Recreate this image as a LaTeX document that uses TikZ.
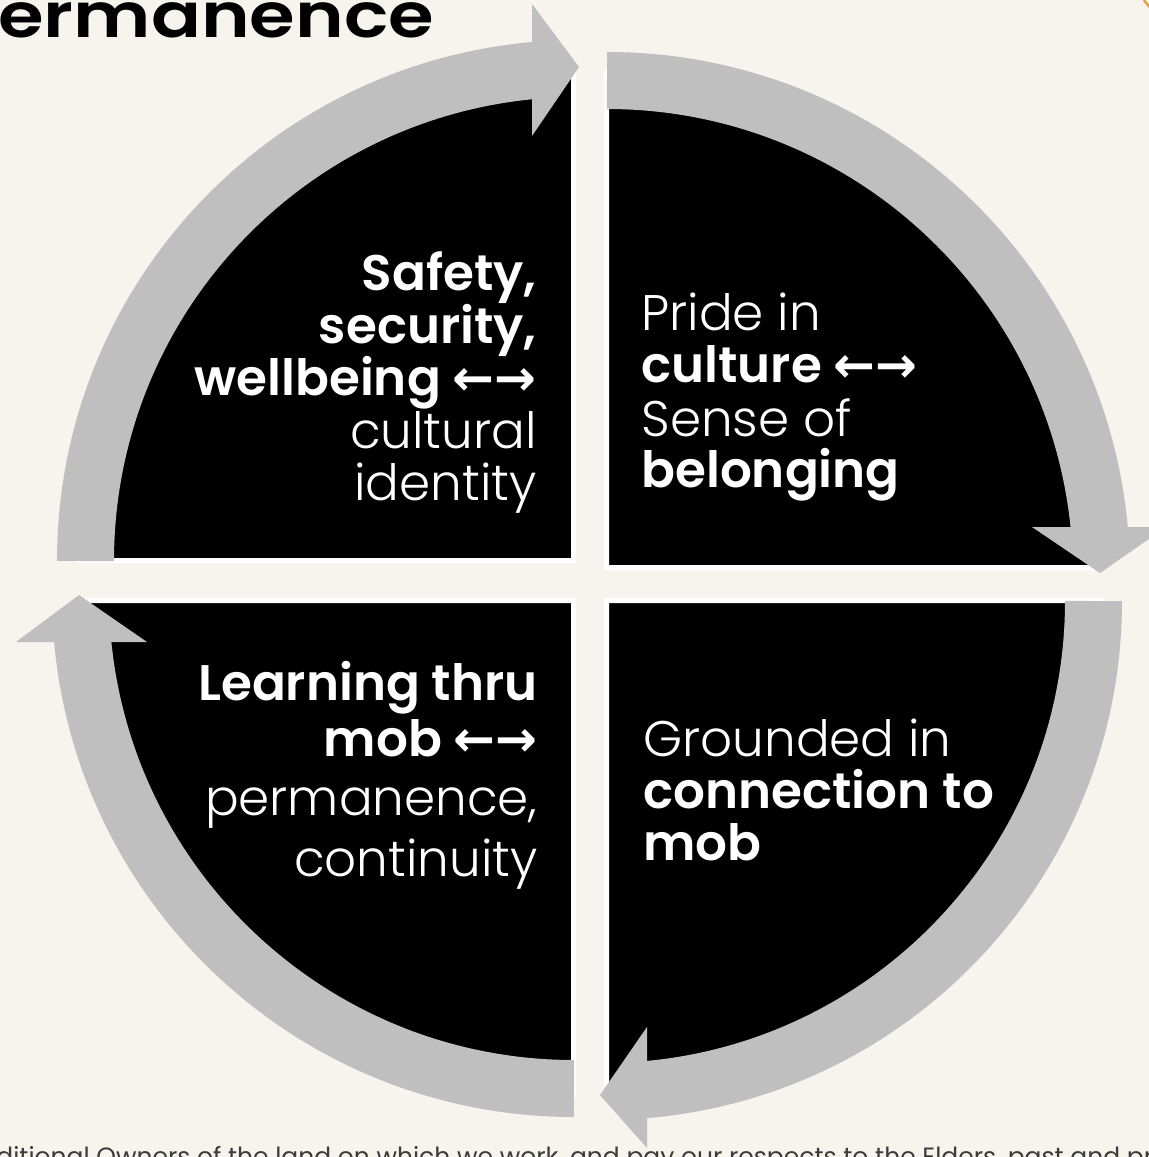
\documentclass[tikz,border=0pt]{standalone}
\usepackage{fontspec}
\setmainfont{Poppins}[UprightFont=* Light, BoldFont=* SemiBold]
\newfontfamily\footfont{Poppins}
\newfontfamily\arrowfont{DejaVu Sans}
\definecolor{bg}{RGB}{247,243,237}
\definecolor{arrowgray}{RGB}{191,191,191}
\definecolor{footgray}{RGB}{60,60,60}
\definecolor{accent}{RGB}{232,160,60}
\newcommand{\lr}{{\arrowfont\char"2190\char"2192}}
\begin{document}
\begin{tikzpicture}[x=0.5pt,y=-0.5pt,
  quad/.style={fill=black,draw=white,line width=2.5pt},
  band/.style={draw=arrowgray,line width=28.5pt},
  head/.style={fill=arrowgray},
  qtext/.style={text=white,inner sep=0pt,font=\fontsize{25}{26}\selectfont},
  qleft/.style={qtext,anchor=base west},
  qright/.style={qtext,anchor=base east}]
\useasboundingbox (0,0) rectangle (1149,1157);
\clip (0,0) rectangle (1149,1157);
\fill[bg] (0,0) rectangle (1149,1157);

% title and footer (partly outside the frame)
\node[anchor=base west,inner sep=0pt,font=\fontsize{31}{31}\bfseries\selectfont,xscale=1.19] (title) at (-2,37) {ermanence};
\node[anchor=base west,inner sep=0pt,text=footgray,font=\footfont\fontsize{12.5}{12.5}\selectfont] (foot) at (-4,1165) {ditional Owners of the land on which we work, and pay our respects to the Elders, past and pr};
\draw[accent,line width=1.2pt] (1170,-15) circle[radius=30];

% quadrants
\path[quad] (573.5,560.5) -- ++(-495,0) arc[start angle=180,end angle=270,radius=495] -- cycle;
\path[quad] (606.5,567.5) -- ++(0,-495) arc[start angle=270,end angle=360,radius=495] -- cycle;
\path[quad] (606.5,600.5) -- ++(495,0) arc[start angle=0,end angle=90,radius=495] -- cycle;
\path[quad] (573.5,600.5) -- ++(0,495) arc[start angle=90,end angle=180,radius=495] -- cycle;

% circular arrows
\draw[band] (578,561) ++(180:492.5) arc[start angle=180,end angle=266,radius=492.5];
\fill[head] (532,4) -- (579,67) -- (532,136) -- cycle;
\draw[band] (607,575) ++(270:494.5) arc[start angle=270,end angle=356,radius=494.5];
\fill[head] (1032,527) -- (1100,573) -- (1166,527) -- cycle;
\draw[band] (603,601) ++(0:490.5) arc[start angle=0,end angle=87,radius=490.5];
\fill[head] (647,1027) -- (600,1095) -- (647,1148) -- cycle;
\draw[band] (574,595) ++(90:493.5) arc[start angle=90,end angle=176,radius=493.5];
\fill[head] (16,642) -- (79,595) -- (147,642) -- cycle;

% texts
\node[qright] (tl1) at (537,290) {\bfseries Safety,};
\node[qright] (tl2) at (537,343) {\bfseries security,};
\node[qright] (tl3) at (537,395) {\bfseries wellbeing \lr};
\node[qright] (tl4) at (537,448) {cultural};
\node[qright] (tl5) at (537,500) {identity};

\node[qleft] (tr1) at (641,330) {Pride in};
\node[qleft] (tr2) at (641,382) {\bfseries culture \lr};
\node[qleft] (tr3) at (641,436) {Sense of};
\node[qleft] (tr4) at (641,487) {\bfseries belonging};

\node[qright] (bl1) at (538,700) {\bfseries Learning thru};
\node[qright] (bl2) at (538,756) {\bfseries mob \lr};
\node[qright] (bl3) at (538,815) {permanence,};
\node[qright] (bl4) at (538,876) {continuity};

\node[qleft] (br1) at (643,756) {Grounded in};
\node[qleft] (br2) at (643,808) {\bfseries connection to};
\node[qleft] (br3) at (643,860) {\bfseries mob};
\end{tikzpicture}
\end{document}
